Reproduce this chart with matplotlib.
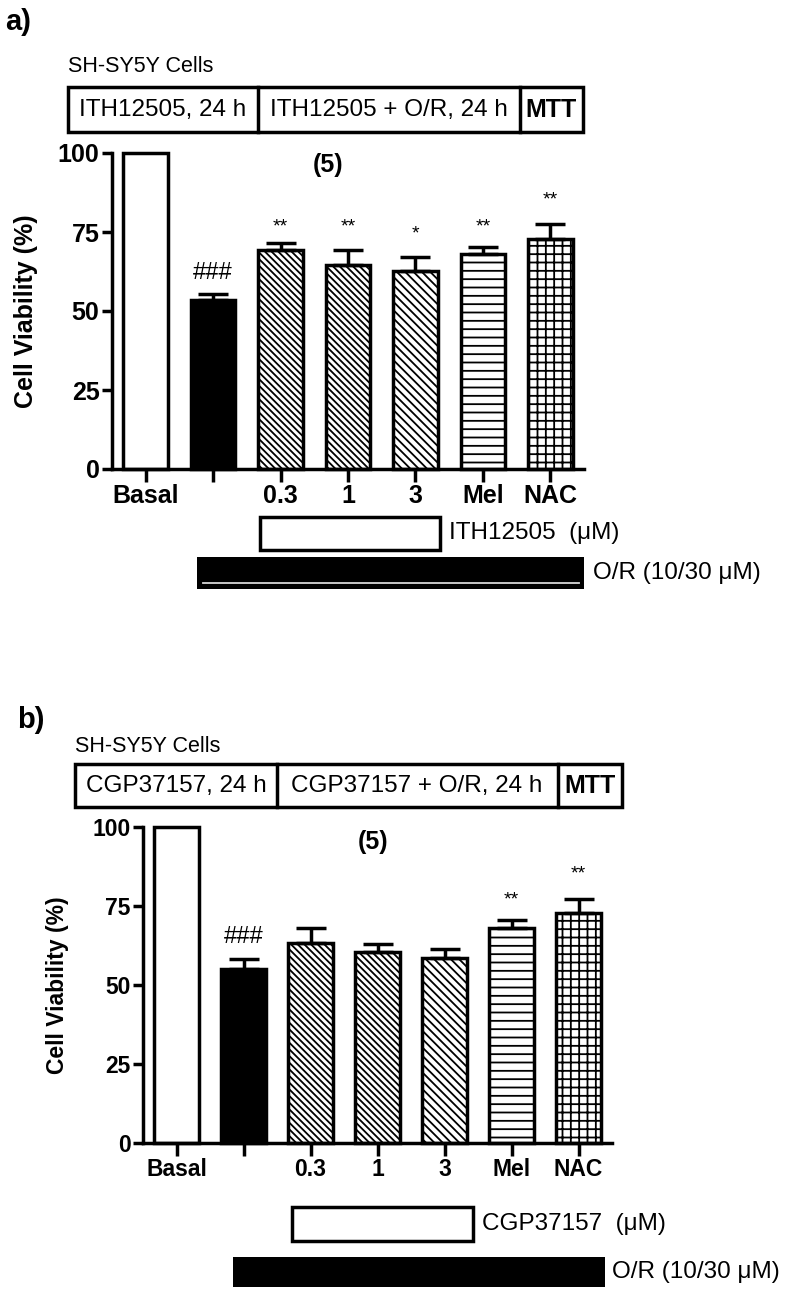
import matplotlib
matplotlib.use("Agg")
import matplotlib.pyplot as plt
from matplotlib.patches import Rectangle
import numpy as np

plt.rcParams['font.family'] = ['Liberation Sans', 'DejaVu Sans']
plt.rcParams['hatch.linewidth'] = 1.3

# ---------------- data ----------------
groups = ['Basal', '', '0.3', '1', '3', 'Mel', 'NAC']
a_values = [100, 53.5, 69.3, 64.6, 62.7, 68.0, 72.8]
a_errors = [0, 1.8, 2.2, 4.7, 4.3, 2.3, 4.7]
a_marks = ['', '###', '**', '**', '*', '**', '**']
a_mark_y = [0, 62.0, 76.6, 76.6, 74.4, 76.6, 85.1]

b_values = [100, 55.1, 63.3, 60.6, 58.5, 68.0, 72.8]
b_errors = [0, 3.1, 4.7, 2.4, 2.9, 2.6, 4.4]
b_marks = ['', '###', '', '', '', '**', '**']
b_mark_y = [0, 65.2, 0, 0, 0, 76.9, 85.1]

y_ticks = [0, 25, 50, 75, 100]

# ---------------- styles ----------------
faces = ['white', 'black', 'white', 'white', 'white', 'white', 'white']
hatches = [None, None, '\\\\\\\\\\', '\\\\\\\\\\', '\\\\\\\\', '--', '++']

W, H = 790, 1292
fig = plt.figure(figsize=(W / 100, H / 100), dpi=100)

# overlay axes in pixel coordinates for annotations / protocol boxes
ov = fig.add_axes([0, 0, 1, 1], zorder=-1)
ov.set_xlim(0, W)
ov.set_ylim(H, 0)
ov.axis('off')

LW = 2.5


def px_axes(l, r, top, bottom):
    return fig.add_axes([l / W, 1 - bottom / H, (r - l) / W, (bottom - top) / H])


def draw_panel(ax, values, errors, marks, mark_y, fs):
    x = np.arange(len(groups))
    for i in range(len(groups)):
        ax.bar(x[i], values[i], width=0.66, color=faces[i], edgecolor='black',
               linewidth=LW, hatch=hatches[i], clip_on=False, zorder=2)
    err = np.array(errors, dtype=float)
    idx = err > 0
    ax.errorbar(x[idx], np.array(values)[idx], yerr=[np.zeros(idx.sum()), err[idx]],
                fmt='none', ecolor='black', elinewidth=LW, capsize=11, capthick=LW,
                zorder=3, clip_on=False)
    for i, m in enumerate(marks):
        if m:
            ax.text(x[i], mark_y[i], m, ha='center', va='center',
                    fontsize=17 if m.startswith('#') else 14, zorder=4)
    ax.set_xlim(-0.5, 6.5)
    ax.set_ylim(0, 100)
    ax.set_yticks(y_ticks)
    ax.set_xticks(x)
    ax.set_xticklabels(groups, fontweight='bold', fontsize=fs)
    for lab in ax.get_yticklabels():
        lab.set_fontweight('bold')
        lab.set_fontsize(fs)
    ax.tick_params(axis='x', length=9, width=LW, pad=2)
    ax.tick_params(axis='y', length=7, width=LW, pad=2)
    for s in ['top', 'right']:
        ax.spines[s].set_visible(False)
    for s in ['left', 'bottom']:
        ax.spines[s].set_linewidth(LW)
    ax.set_facecolor('none')
    ax.set_ylabel('Cell Viability (%)', fontweight='bold', fontsize=fs)
    ax.yaxis.set_label_coords(-0.157, 0.5)


# ---------------- panel a ----------------
ax_a = px_axes(112, 584, 153, 469)
draw_panel(ax_a, a_values, a_errors, a_marks, a_mark_y, 18)
ax_a.text(2.7, 96.2, '(5)', ha='center', va='center', fontweight='bold', fontsize=18)

ov.text(5, 22, 'a)', fontsize=21, fontweight='bold', ha='left', va='center')
ov.text(68, 66, 'SH-SY5Y Cells', fontsize=15.5, ha='left', va='center')
ov.add_patch(Rectangle((68, 87), 583 - 68, 132 - 87, fill=False, lw=LW, ec='black'))
ov.plot([258, 258], [87, 132], color='black', lw=LW)
ov.plot([520, 520], [87, 132], color='black', lw=LW)
ov.text(163, 110, 'ITH12505, 24 h', fontsize=17.5, ha='center', va='center')
ov.text(389, 110, 'ITH12505 + O/R, 24 h', fontsize=17.5, ha='center', va='center')
ov.text(551, 110, 'MTT', fontsize=18, fontweight='bold', ha='center', va='center')

ov.add_patch(Rectangle((260, 517), 180, 33, facecolor='white', lw=LW, ec='black'))
ov.text(449, 533, 'ITH12505  (\u03bcM)', fontsize=17.5, ha='left', va='center')
ov.add_patch(Rectangle((197, 557), 387, 32, facecolor='black', lw=0))
ov.plot([203, 579], [583, 583], color='#d8d8d8', lw=1.3)
ov.text(593, 573, 'O/R (10/30 \u03bcM)', fontsize=17.5, ha='left', va='center')

# ---------------- panel b ----------------
ax_b = px_axes(143, 612, 827, 1143)
draw_panel(ax_b, b_values, b_errors, b_marks, b_mark_y, 16.5)
ax_b.text(2.93, 95.3, '(5)', ha='center', va='center', fontweight='bold', fontsize=18)

ov.text(17, 720, 'b)', fontsize=21, fontweight='bold', ha='left', va='center')
ov.text(75, 747, 'SH-SY5Y Cells', fontsize=15.5, ha='left', va='center')
ov.add_patch(Rectangle((75, 764), 622 - 75, 807 - 764, fill=False, lw=LW, ec='black'))
ov.plot([277, 277], [764, 807], color='black', lw=LW)
ov.plot([558, 558], [764, 807], color='black', lw=LW)
ov.text(176, 786, 'CGP37157, 24 h', fontsize=17.5, ha='center', va='center')
ov.text(417, 786, 'CGP37157 + O/R, 24 h', fontsize=17.5, ha='center', va='center')
ov.text(590, 786, 'MTT', fontsize=18, fontweight='bold', ha='center', va='center')

ov.add_patch(Rectangle((292, 1207), 181, 34, facecolor='white', lw=LW, ec='black'))
ov.text(482, 1224, 'CGP37157  (\u03bcM)', fontsize=17.5, ha='left', va='center')
ov.add_patch(Rectangle((233, 1257), 372, 30, facecolor='black', lw=0))
ov.text(612, 1272, 'O/R (10/30 \u03bcM)', fontsize=17.5, ha='left', va='center')

fig.savefig('out.png', dpi=100)
